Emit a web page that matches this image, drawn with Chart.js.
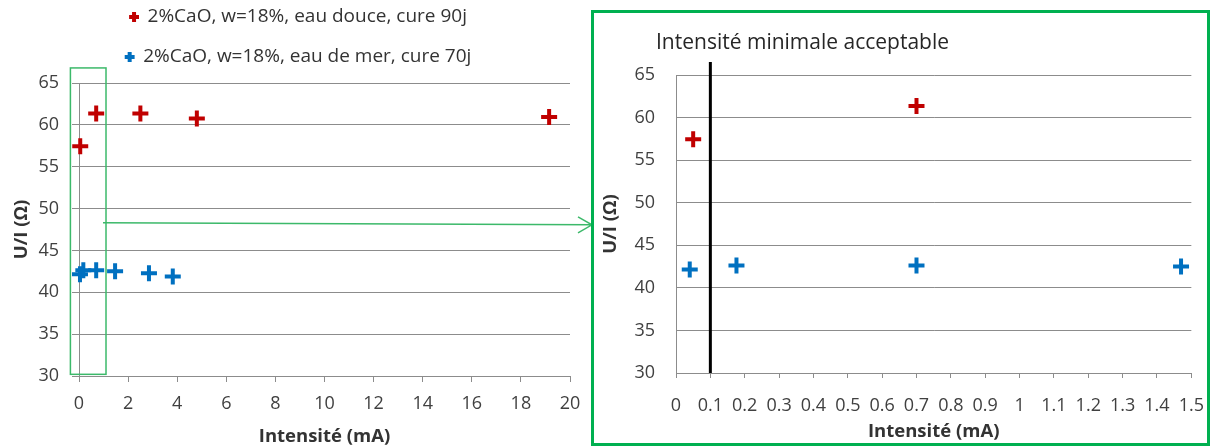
<!DOCTYPE html>
<html lang="fr">
<head>
<meta charset="utf-8">
<script src="https://cdn.jsdelivr.net/npm/chart.js@4.4.1/dist/chart.umd.min.js"></script>
<style>
  body { margin: 0; background: #fff; }
  #page { position: relative; width: 1212px; height: 448px; overflow: hidden; }
  #left { position: absolute; left: 0; top: 0; width: 593px; height: 448px; }
  #zoomBox { position: absolute; left: 591px; top: 10px; width: 619px; height: 436px; border: 3px solid #00b050; box-sizing: border-box; }
  #right { position: absolute; left: 594px; top: 13px; width: 613px; height: 430px; }
</style>
</head>
<body>
<div id="page">
  <div id="left"><canvas id="mainChart"></canvas></div>
  <div id="zoomBox"></div>
  <div id="right"><canvas id="zoomChart"></canvas></div>
</div>
<script>
const SERIES_NAMES = [
  "2%CaO, w=18%, eau douce, cure 90j",
  "2%CaO, w=18%, eau de mer, cure 70j",
];

// eau douce, cure 90j
const RED_X = [0.05, 0.7, 2.5, 4.8, 19.15];
const RED_Y = [57.45, 61.35, 61.35, 60.75, 60.95];

// eau de mer, cure 70j
const BLUE_X = [0.04, 0.176, 0.7, 1.47, 2.85, 3.82];
const BLUE_Y = [42.16, 42.63, 42.63, 42.5, 42.26, 41.9];

const MIN_INTENSITY = 0.1;
const MIN_LABEL = "Intensité minimale acceptable";
const X_TITLE = "Intensité (mA)";
const Y_TITLE = "U/I (Ω)";

// zoomed region drawn on the main chart (data coords)
const ZOOM_X = [-0.35, 1.1];
const ZOOM_Y = [30.2, 66.8];
const ARROW_Y = 48.3;

const RED = "#c00000";
const BLUE = "#0070c0";
const GRID = "#8c8c8c";
const TEXT = "#404040";
const GREEN = "#3cb96a";

Chart.defaults.font.family = "'Open Sans'";
Chart.defaults.font.size = 18;
Chart.defaults.color = TEXT;

function toPoints(xs, ys) {
  return xs.map((x, i) => ({ x: x, y: ys[i] }));
}

function makeDatasets(clip) {
  const base = {
    pointStyle: "cross",
    pointRadius: 8,
    pointBorderWidth: 4,
    borderWidth: 4,
    clip: clip,
  };
  return [
    Object.assign({}, base, {
      label: SERIES_NAMES[0],
      data: toPoints(RED_X, RED_Y),
      borderColor: RED,
      backgroundColor: RED,
    }),
    Object.assign({}, base, {
      label: SERIES_NAMES[1],
      data: toPoints(BLUE_X, BLUE_Y),
      borderColor: BLUE,
      backgroundColor: BLUE,
    }),
  ];
}

const zoomFrame = {
  id: "zoomFrame",
  afterDatasetsDraw(chart) {
    const { ctx, scales } = chart;
    const x1 = scales.x.getPixelForValue(ZOOM_X[0]);
    const x2 = scales.x.getPixelForValue(ZOOM_X[1]);
    const y1 = scales.y.getPixelForValue(ZOOM_Y[1]);
    const y2 = scales.y.getPixelForValue(ZOOM_Y[0]);
    const ya = scales.y.getPixelForValue(ARROW_Y);
    const tip = chart.width - 1;
    ctx.save();
    ctx.strokeStyle = GREEN;
    ctx.lineWidth = 1.5;
    ctx.strokeRect(x1, y1, x2 - x1, y2 - y1);
    ctx.beginPath();
    ctx.moveTo(x2 - 3, ya);
    ctx.lineTo(tip, ya + 2);
    ctx.moveTo(tip - 14, ya - 6);
    ctx.lineTo(tip, ya + 2);
    ctx.lineTo(tip - 14, ya + 10);
    ctx.stroke();
    ctx.restore();
  },
};

const minLine = {
  id: "minLine",
  afterDatasetsDraw(chart) {
    const { ctx, chartArea, scales } = chart;
    const x = scales.x.getPixelForValue(MIN_INTENSITY);
    ctx.save();
    ctx.strokeStyle = "#000";
    ctx.lineWidth = 3;
    ctx.beginPath();
    ctx.moveTo(x, chartArea.bottom);
    ctx.lineTo(x, chartArea.top - 13);
    ctx.stroke();
    ctx.fillStyle = "#262626";
    ctx.font = "21px 'Open Sans'";
    ctx.textBaseline = "middle";
    ctx.fillText(MIN_LABEL, chartArea.left - 20, chartArea.top - 32);
    ctx.restore();
  },
};

const titleFont = { size: 18.5, weight: "bold" };

new Chart(document.getElementById("mainChart"), {
  type: "scatter",
  data: { datasets: makeDatasets(false) },
  options: {
    responsive: true,
    maintainAspectRatio: false,
    animation: false,
    events: [],
    layout: { padding: { top: -13.5, left: 27, right: 23, bottom: 0 } },
    plugins: {
      legend: {
        position: "top",
        labels: {
          usePointStyle: true,
          boxHeight: 7,
          boxWidth: 8,
          padding: 21,
          color: "#333",
          font: { size: 19 },
        },
      },
      // empty spacer between legend and plot
      subtitle: { display: true, text: "", weight: 500, font: { size: 5 }, padding: { top: 0.5, bottom: 0 } },
      tooltip: { enabled: false },
    },
    scales: {
      x: {
        min: 0,
        max: 20,
        ticks: { stepSize: 2, padding: 11 },
        grid: { drawOnChartArea: false, tickLength: 6, color: GRID },
        border: { color: GRID },
        title: { display: true, text: X_TITLE, color: "#333", font: titleFont, padding: { top: 0, bottom: 0 } },
        afterFit(scale) { scale.height = 72; },
      },
      y: {
        min: 30,
        max: 65,
        ticks: { stepSize: 5, padding: 13 },
        grid: { tickLength: 7, color: GRID },
        border: { color: GRID },
        title: { display: true, text: Y_TITLE, color: "#333", font: titleFont, padding: { top: -16, bottom: 0 } },
        afterFit(scale) { scale.width = 52; },
      },
    },
  },
  plugins: [zoomFrame],
});

new Chart(document.getElementById("zoomChart"), {
  type: "scatter",
  data: { datasets: makeDatasets(undefined) },
  options: {
    responsive: true,
    maintainAspectRatio: false,
    animation: false,
    events: [],
    layout: { padding: { top: 62, left: 0, right: 15, bottom: 0 } },
    plugins: {
      legend: { display: false },
      tooltip: { enabled: false },
    },
    scales: {
      x: {
        min: 0,
        max: 1.5,
        ticks: {
          stepSize: 0.1,
          padding: 3,
          maxRotation: 0,
          autoSkip: false,
          font: { lineHeight: 2.78 },
          callback: (v) => String(Math.round(v * 10) / 10),
        },
        grid: { drawOnChartArea: false, tickLength: 5, color: GRID },
        border: { color: GRID },
        title: { display: true, text: X_TITLE, color: "#333", font: titleFont, padding: { top: 0, bottom: 0 } },
        afterFit(scale) { scale.height = 70; },
      },
      y: {
        min: 30,
        max: 65,
        ticks: { stepSize: 5, padding: 21 },
        grid: { drawTicks: false, color: GRID },
        border: { color: GRID },
        title: { display: true, text: Y_TITLE, color: "#333", font: titleFont, padding: { top: 6, bottom: 0 } },
        afterFit(scale) { scale.width = 82; },
      },
    },
  },
  plugins: [minLine],
});
</script>
</body>
</html>
